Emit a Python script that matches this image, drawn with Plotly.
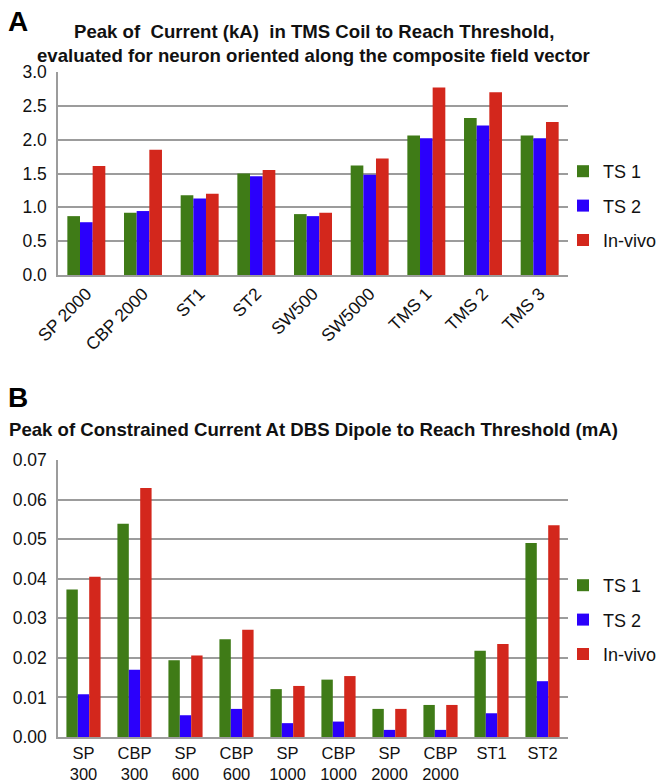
import plotly.graph_objects as go

# ---------------- data ----------------
series_names = ["TS 1", "TS 2", "In-vivo"]
series_colors = ["#3f7b17", "#2b00fb", "#d3271c"]

a_categories = ["SP 2000", "CBP 2000", "ST1", "ST2", "SW500", "SW5000", "TMS 1", "TMS 2", "TMS 3"]
a_ts1 = [0.87, 0.92, 1.18, 1.50, 0.90, 1.62, 2.06, 2.32, 2.06]
a_ts2 = [0.78, 0.945, 1.13, 1.46, 0.87, 1.48, 2.02, 2.21, 2.02]
a_invivo = [1.61, 1.85, 1.20, 1.55, 0.92, 1.72, 2.77, 2.70, 2.26]

b_categories = ["SP<br>300", "CBP<br>300", "SP<br>600", "CBP<br>600", "SP<br>1000",
                "CBP<br>1000", "SP<br>2000", "CBP<br>2000", "ST1", "ST2"]
b_ts1 = [0.0373, 0.0539, 0.0194, 0.0247, 0.0121, 0.0145, 0.0071, 0.0081, 0.0218, 0.0490]
b_ts2 = [0.0108, 0.0170, 0.0055, 0.0071, 0.0035, 0.0039, 0.0018, 0.0018, 0.0060, 0.0141]
b_invivo = [0.0405, 0.0629, 0.0206, 0.0271, 0.0129, 0.0154, 0.0071, 0.0081, 0.0235, 0.0535]

a_title1 = "Peak of  Current (kA)  in TMS Coil to Reach Threshold,"
a_title2 = "evaluated for neuron oriented along the composite field vector"
b_title = "Peak of Constrained Current At DBS Dipole to Reach Threshold (mA)"

# ---------------- figure ----------------
W, H = 659, 784
FONT = "Liberation Sans, Arial, Helvetica, sans-serif"
GRID = "#9c9c9c"

def px(x):
    return x / W

def py(y):
    return 1 - y / H

fig = go.Figure()

for name, color, vals in zip(series_names, series_colors, [a_ts1, a_ts2, a_invivo]):
    fig.add_trace(go.Bar(x=a_categories, y=vals, name=name, marker_color=color,
                         marker_line_width=0, xaxis="x", yaxis="y", legend="legend",
                         legendgroup="a" + name))
for name, color, vals in zip(series_names, series_colors, [b_ts1, b_ts2, b_invivo]):
    fig.add_trace(go.Bar(x=b_categories, y=vals, name=name, marker_color=color,
                         marker_line_width=0, xaxis="x2", yaxis="y2", legend="legend2",
                         legendgroup="b" + name))

axis_common = dict(showline=True, linecolor=GRID, linewidth=1.5, ticks="", automargin=False,
                   fixedrange=True)
tick17 = dict(family=FONT, size=17.5, color="#111")

legend_common = dict(xanchor="left", yanchor="top",
                     font=dict(family=FONT, size=18, color="#111"), tracegroupgap=8,
                     itemwidth=30, bgcolor="rgba(0,0,0,0)")

fig.update_layout(
    width=W, height=H,
    margin=dict(l=0, r=0, t=0, b=0, pad=0, autoexpand=False),
    paper_bgcolor="white", plot_bgcolor="white",
    barmode="group", bargap=0.33, bargroupgap=0,
    font=dict(family=FONT, color="#111"),
    xaxis=dict(domain=[px(58), px(568)], anchor="y", tickangle=-45, showgrid=False,
               tickfont=tick17, **axis_common),
    yaxis=dict(domain=[py(275), py(72)], anchor="x", range=[0, 3], dtick=0.5,
               tickformat=".1f", showgrid=True, gridcolor=GRID, gridwidth=1.5,
               ticklabelstandoff=6, zeroline=False, tickfont=tick17, **axis_common),
    xaxis2=dict(domain=[px(58), px(568)], anchor="y2", showgrid=False,
                tickfont=dict(family=FONT, size=16.5, color="#111"), ticklabelstandoff=0,
                **axis_common),
    yaxis2=dict(domain=[py(737), py(460)], anchor="x2", range=[0, 0.07], dtick=0.01,
                tickformat=".2f", showgrid=True, gridcolor=GRID, gridwidth=1.5,
                ticklabelstandoff=6, zeroline=False, tickfont=tick17, **axis_common),
    legend=dict(x=px(563), y=py(153), **legend_common),
    legend2=dict(x=px(563), y=py(567), **legend_common),
    annotations=[
        dict(text="<b>A</b>", x=px(6), y=py(22), xref="paper", yref="paper",
             xanchor="left", yanchor="middle", showarrow=False,
             font=dict(family=FONT, size=28, color="#000")),
        dict(text="<b>" + a_title1 + "</b>", x=px(314), y=py(31), xref="paper", yref="paper",
             xanchor="center", yanchor="middle", showarrow=False,
             font=dict(family=FONT, size=18.6, color="#111")),
        dict(text="<b>" + a_title2 + "</b>", x=px(313), y=py(55), xref="paper", yref="paper",
             xanchor="center", yanchor="middle", showarrow=False,
             font=dict(family=FONT, size=18.6, color="#111")),
        dict(text="<b>B</b>", x=px(6), y=py(397), xref="paper", yref="paper",
             xanchor="left", yanchor="middle", showarrow=False,
             font=dict(family=FONT, size=28, color="#000")),
        dict(text="<b>" + b_title + "</b>", x=px(7), y=py(429), xref="paper", yref="paper",
             xanchor="left", yanchor="middle", showarrow=False,
             font=dict(family=FONT, size=18.6, color="#111")),
    ],
)

fig.write_html("out.html", config={"displayModeBar": False},
               post_script="document.body.style.margin='0';document.body.style.overflow='hidden';")
